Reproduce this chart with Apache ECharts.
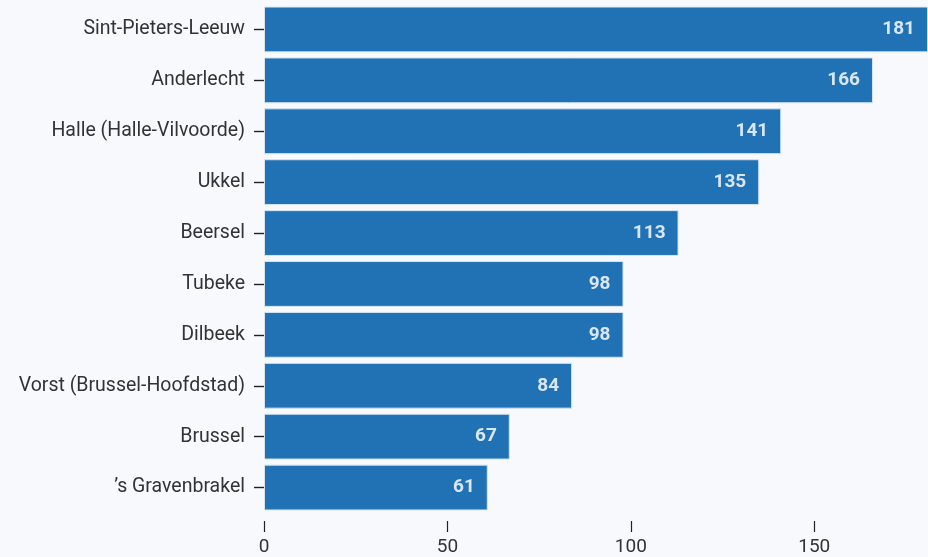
<!DOCTYPE html>
<html>
<head>
<meta charset="utf-8">
<script src="https://cdn.jsdelivr.net/npm/echarts@6/dist/echarts.min.js"></script>
<style>html,body{margin:0;padding:0;background:#f7f9fc;}#c{width:928px;height:557px;}</style>
</head>
<body>
<div id="c"></div>
<script>
const categories = ["Sint-Pieters-Leeuw","Anderlecht","Halle (Halle-Vilvoorde)","Ukkel","Beersel","Tubeke","Dilbeek","Vorst (Brussel-Hoofdstad)","Brussel","\u2019s Gravenbrakel"];
const values = [181,166,141,135,113,98,98,84,67,61];
const xTicks = [0,50,100,150];

const chart = echarts.init(document.getElementById('c'));
chart.setOption({
  backgroundColor: '#f7f9fc',
  animation: false,
  grid: {left: 264, right: -3, top: 4, bottom: 43, containLabel: false},
  xAxis: {
    type: 'value', min: 0, max: 181, interval: 50,
    offset: 8,
    axisLine: {show: false},
    axisTick: {show: true, length: 11, customValues: xTicks, lineStyle: {color: '#222', width: 1.2}},
    splitLine: {show: false},
    axisLabel: {color: '#333', fontFamily: 'Roboto', fontSize: 19, margin: 17, customValues: xTicks}
  },
  yAxis: {
    type: 'category', data: categories, inverse: true,
    offset: 2,
    axisLine: {show: false},
    axisTick: {show: true, length: 10, alignWithLabel: true, lineStyle: {color: '#222', width: 1.4}},
    axisLabel: {color: '#333', fontFamily: 'Roboto', fontSize: 19.5, margin: 17, padding: [3, 0, 0, 0]}
  },
  series: [{
    type: 'bar', data: values, barCategoryGap: '10%',
    itemStyle: {color: '#2171b5', borderColor: '#d6e4f2', borderWidth: 1},
    label: {show: true, position: 'insideRight', distance: 13, color: '#d9e6f3',
      fontFamily: 'Roboto', fontWeight: 'bold', fontSize: 19}
  }]
});
</script>
</body>
</html>
